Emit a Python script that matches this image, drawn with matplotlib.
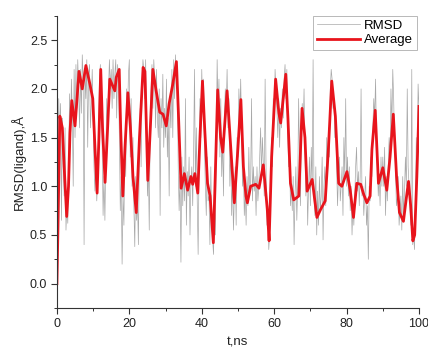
import numpy as np
import matplotlib.pyplot as plt
from matplotlib.ticker import MultipleLocator

plt.rcParams['font.family'] = ['Liberation Sans', 'DejaVu Sans']

rmsd_t = np.arange(0, 100.001, 0.25)
rmsd = [
    0.0, 1.1, 1.9, 1.5, 1.85, 0.65, 1.7, 1.2, 0.9, 1.6, 0.55, 0.8, 0.62, 1.3, 1.95, 1.4, 2.1, 1.7, 1.0, 2.2,
    1.5, 2.25, 1.8, 2.3, 2.0, 1.6, 2.2, 1.75, 2.35, 2.1, 0.4, 2.2, 1.9, 2.3, 1.4, 2.15, 2.25, 1.6, 1.85, 2.2,
    1.7, 1.2, 0.95, 1.3, 0.85, 1.05, 1.6, 2.1, 2.25, 1.9, 1.4, 0.7, 1.1, 0.65, 1.3, 1.9, 1.5, 2.0, 2.3, 2.0,
    2.2, 1.8, 2.3, 1.9, 2.15, 2.3, 1.7, 2.25, 2.1, 1.5, 0.75, 1.1, 0.2, 0.9, 0.6, 1.4, 1.1, 2.0, 1.7, 2.15,
    2.3, 1.3, 1.9, 1.0, 1.5, 0.8, 0.38, 1.1, 0.65, 0.85, 0.4, 1.3, 1.8, 1.2, 2.0, 2.3, 2.2, 1.9, 2.3, 1.6,
    0.9, 1.2, 0.55, 1.6, 2.0, 2.25, 1.8, 2.3, 2.1, 1.6, 2.2, 1.7, 1.5, 2.0, 0.7, 1.9, 1.6, 2.15, 1.4, 1.8,
    1.5, 2.1, 1.3, 1.7, 0.9, 1.9, 1.6, 2.2, 1.5, 2.3, 1.9, 2.35, 2.0, 2.2, 1.2, 0.75, 1.1, 0.22, 1.3, 0.8,
    1.2, 0.85, 1.9, 0.6, 1.15, 0.9, 1.3, 0.5, 1.05, 1.2, 0.8, 1.35, 2.2, 1.0, 1.6, 0.85, 0.3, 1.2, 1.9, 1.5,
    2.2, 1.8, 2.1, 1.4, 1.0, 0.7, 1.3, 0.85, 0.9, 0.4, 1.2, 0.6, 0.45, 0.3, 0.8, 0.5, 1.4, 2.3, 1.8, 2.1,
    1.3, 1.9, 1.1, 1.5, 0.9, 1.7, 2.0, 1.8, 2.2, 1.6, 1.9, 1.0, 1.4, 0.7, 1.1, 0.55, 0.9, 1.2, 0.6, 1.5,
    1.3, 2.0, 1.7, 2.1, 1.6, 1.0, 1.2, 0.7, 0.95, 0.6, 1.1, 0.8, 1.4, 0.9, 1.05, 1.9, 0.85, 1.2, 0.95, 1.1,
    0.7, 1.2, 0.85, 1.0, 1.3, 1.6, 1.1, 1.5, 1.25, 0.9, 2.1, 1.2, 0.6, 0.8, 0.35, 0.5, 1.0, 1.5, 1.2, 1.9,
    1.7, 2.2, 2.0, 1.8, 1.5, 1.9, 1.4, 1.8, 1.6, 2.0, 1.7, 2.1, 2.25, 1.9, 2.2, 1.5, 1.2, 1.3, 0.8, 1.0,
    0.75, 1.1, 0.4, 0.9, 1.2, 0.65, 1.0, 1.9, 1.3, 0.8, 1.5, 1.85, 1.6, 2.0, 1.4, 0.9, 1.2, 0.6, 1.0, 1.3,
    0.8, 1.4, 1.0, 2.3, 0.9, 0.7, 1.2, 0.5, 0.95, 0.6, 1.1, 0.75, 0.9, 1.3, 0.45, 1.0, 1.2, 0.8, 1.5, 1.1,
    1.6, 1.3, 2.0, 2.2, 2.1, 1.8, 1.9, 1.5, 1.7, 1.2, 0.8, 1.1, 1.3, 0.85, 1.0, 1.2, 0.7, 1.5, 1.1, 1.9,
    1.0, 1.3, 0.9, 1.2, 0.75, 1.0, 0.5, 0.8, 0.6, 0.9, 1.2, 1.4, 0.95, 1.15, 0.8, 1.1, 2.0, 0.9, 1.0, 0.7,
    0.9, 1.1, 0.6, 0.8, 0.25, 1.0, 0.85, 1.3, 1.1, 1.6, 1.9, 1.7, 2.1, 1.5, 1.2, 0.9, 1.1, 0.8, 1.3, 1.0,
    1.3, 1.0, 1.4, 0.7, 1.1, 0.85, 1.2, 1.5, 1.3, 2.0, 1.6, 2.2, 1.9, 1.4, 1.2, 0.8, 0.9, 1.1, 0.6, 0.75,
    0.9, 0.55, 1.1, 0.7, 0.95, 1.3, 1.0, 2.0, 1.2, 1.0, 0.8, 0.6, 2.2, 0.4, 0.5, 0.35, 0.8, 1.5, 1.3, 2.05,
    1.8,
]

# running average (red line)
avg_t = [0.0, 0.3, 0.8, 1.5, 2.0, 2.7, 3.2, 3.6, 4.1, 5.0, 6.1, 7.0, 8.0, 9.1, 9.9, 10.5, 11.1, 11.6,
         12.1, 12.6, 13.3, 14.0, 14.6, 16.0, 16.4, 17.2, 17.6, 18.2, 18.8, 19.6, 20.3, 21.0, 21.9, 22.8,
         23.8, 24.3, 25.1, 25.8, 26.5, 27.4, 28.4, 29.3, 30.2, 31.0, 32.0, 33.0, 33.5, 34.3, 35.2, 36.1,
         37.0, 37.5, 38.1, 38.9, 39.5, 40.2, 40.8, 41.6, 42.3, 43.2, 43.8, 44.4, 45.2, 45.8, 47.0, 48.0,
         49.0, 50.0, 50.8, 51.5, 52.2, 52.6, 53.5, 54.9, 55.8, 57.0, 58.1, 58.6, 59.3, 60.4, 61.3, 61.8,
         63.2, 63.8, 64.5, 65.4, 66.8, 67.7, 68.5, 69.1, 70.5, 71.8, 72.8, 74.1, 75.0, 75.9, 76.9, 77.8,
         78.7, 80.1, 81.0, 81.9, 82.8, 83.9, 84.6, 85.6, 86.5, 87.0, 87.9, 88.8, 90.0, 91.1, 92.0, 92.9,
         93.8, 94.6, 95.7, 96.4, 97.1, 97.7, 98.3, 98.8, 99.4, 100.0]
avg = [0.0, 0.6, 1.72, 1.6, 1.2, 0.69, 1.0, 1.55, 1.88, 1.62, 2.18, 2.0, 2.24, 2.05, 1.9, 1.4, 0.93, 1.5,
       2.2, 1.6, 1.04, 1.6, 2.1, 1.98, 2.12, 2.2, 1.6, 0.9, 1.4, 1.96, 1.6, 1.1, 0.73, 1.5,
       2.22, 2.18, 1.06, 1.6, 2.2, 1.98, 1.76, 1.74, 1.62, 1.85, 2.05, 2.28, 1.8, 0.98, 1.13, 0.96,
       1.10, 1.02, 1.13, 0.93, 1.5, 2.08, 1.6, 1.03, 0.9, 0.42, 1.2, 1.99, 1.5, 1.35, 1.98, 1.4,
       0.83, 1.4, 1.89, 1.2, 0.9, 0.83, 1.0, 1.02, 0.98, 1.22, 0.76, 0.44, 1.3, 2.1, 1.75, 1.65,
       2.15, 1.7, 1.03, 0.86, 0.9, 1.8, 1.5, 0.95, 1.07, 0.68, 0.76, 0.85, 1.4, 2.08, 1.72, 1.03,
       1.0, 1.15, 0.96, 0.68, 1.03, 1.02, 0.93, 0.83, 0.9, 1.38, 1.78, 1.03, 1.19, 0.96, 1.3, 1.74,
       1.1, 0.73, 0.64, 0.85, 1.05, 0.8, 0.44, 0.5, 1.1, 1.82]

fig = plt.figure(figsize=(4.28, 3.52), dpi=100)
ax = fig.add_axes([0.133, 0.125, 0.846, 0.83])

ax.plot(rmsd_t, rmsd, color='#a8a8a8', lw=0.5, label='RMSD')
ax.plot(avg_t, avg, color='#e8141c', lw=2.0, label='Average')

ax.set_xlim(0, 100)
ax.set_ylim(-0.25, 2.75)
ax.xaxis.set_major_locator(MultipleLocator(20))
ax.xaxis.set_minor_locator(MultipleLocator(10))
ax.yaxis.set_major_locator(MultipleLocator(0.5))
ax.yaxis.set_minor_locator(MultipleLocator(0.25))
ax.yaxis.set_major_formatter(plt.FormatStrFormatter('%.1f'))

for s in ['top', 'right']:
    ax.spines[s].set_visible(False)
for s in ['left', 'bottom']:
    ax.spines[s].set_color('#333333')
    ax.spines[s].set_linewidth(0.8)

ax.tick_params(which='major', direction='out', length=4, width=0.8, color='#333333',
               labelsize=9, labelcolor='#222222', pad=3)
ax.tick_params(which='minor', direction='out', length=2.5, width=0.7, color='#333333')

ax.set_xlabel('t,ns', fontsize=9.5, color='#222222', labelpad=5)
ax.set_ylabel('RMSD(ligand),Å', fontsize=9.5, color='#222222', labelpad=3)

leg = ax.legend(loc='upper right', bbox_to_anchor=(0.995, 1.0), fontsize=9.5, frameon=True,
                fancybox=False, edgecolor='#999999', borderpad=0.3, labelspacing=0.15,
                handlelength=3.3, handletextpad=0.3, borderaxespad=0.0)
leg.get_frame().set_linewidth(0.6)

plt.savefig('out.png', dpi=100)
